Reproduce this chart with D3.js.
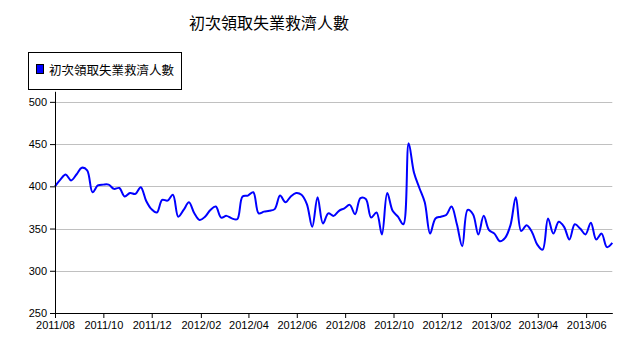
<!DOCTYPE html>
<html><head><meta charset="utf-8">
<script src="https://cdn.jsdelivr.net/npm/d3@7"></script>
<style>body{margin:0;background:#fff}</style>
</head><body><svg id="c" width="628" height="360"></svg>
<script>
const title = "初次領取失業救濟人數";
const seriesName = "初次領取失業救濟人數";
const weeks = [
"2011-08-06","2011-08-13","2011-08-20","2011-08-27","2011-09-03","2011-09-10","2011-09-17","2011-09-24","2011-10-01","2011-10-08","2011-10-15","2011-10-22","2011-10-29","2011-11-05","2011-11-12","2011-11-19","2011-11-26","2011-12-03","2011-12-10","2011-12-17","2011-12-24","2011-12-31",
"2012-01-07","2012-01-14","2012-01-21","2012-01-28","2012-02-04","2012-02-11","2012-02-18","2012-02-25","2012-03-03","2012-03-10","2012-03-17","2012-03-24","2012-03-31","2012-04-07","2012-04-14","2012-04-21","2012-04-28","2012-05-05","2012-05-12","2012-05-19","2012-05-26","2012-06-02","2012-06-09","2012-06-16","2012-06-23","2012-06-30","2012-07-07","2012-07-14","2012-07-21","2012-07-28","2012-08-04","2012-08-11","2012-08-18","2012-08-25","2012-09-01","2012-09-08","2012-09-15","2012-09-22","2012-09-29","2012-10-06","2012-10-13","2012-10-20","2012-10-27","2012-11-03","2012-11-10","2012-11-17","2012-11-24","2012-12-01","2012-12-08","2012-12-15","2012-12-22","2012-12-29",
"2013-01-05","2013-01-12","2013-01-19","2013-01-26","2013-02-02","2013-02-09","2013-02-16","2013-02-23","2013-03-02","2013-03-09","2013-03-16","2013-03-23","2013-03-30","2013-04-06","2013-04-13","2013-04-20","2013-04-27","2013-05-04","2013-05-11","2013-05-18","2013-05-25","2013-06-01","2013-06-08","2013-06-15","2013-06-22","2013-06-29","2013-07-06","2013-07-13","2013-07-20","2013-07-27","2013-08-03"];
const claims = [
400,408,414,407,414,422,419,393,401,402,402,397,398,388,392,391,399,383,373,369,384,383,
390,364,372,381,368,360,364,372,376,363,365,362,361,388,389,393,368,370,371,373,389,381,388,392,390,379,352,387,356,368,365,371,374,378,367,386,385,363,369,343,392,371,364,355,451,416,398,381,344,362,364,366,
376,355,329,372,367,343,365,348,344,335,339,354,387,347,354,346,331,325,362,344,358,352,337,355,350,343,357,337,344,328,333];
const yTicks = [250,300,350,400,450,500];
const xTickLabels = ["2011/08","2011/10","2011/12","2012/02","2012/04","2012/06","2012/08","2012/10","2012/12","2013/02","2013/04","2013/06"];

const svg = d3.select("#c");
const L = 55, R = 612.3, T = 91.3, B = 313;
const x = d3.scalePoint().domain(weeks).range([L, R]);
const parseM = d3.timeParse("%Y/%m");
const xAxisScale = d3.scaleTime().domain([new Date(2011,7,1), new Date(2013,6,4)]).range([L, R]);
const y = d3.scaleLinear().domain([250, 512.5]).range([B, T]);
const latin = "'Liberation Sans', Arial, sans-serif";
const cjk = "'Noto Sans CJK TC', 'Noto Sans CJK SC', sans-serif";

// grid
svg.append("g").selectAll("line").data(yTicks.filter(d => d > 250)).join("line")
  .attr("x1", L).attr("x2", R)
  .attr("y1", d => Math.round(y(d)) + 0.5).attr("y2", d => Math.round(y(d)) + 0.5)
  .attr("stroke", "#c0c0c0").attr("stroke-width", 1);

// line
svg.append("path").datum(claims)
  .attr("fill", "none").attr("stroke", "#0000ff").attr("stroke-width", 2)
  .attr("stroke-linejoin", "round")
  .attr("d", d3.line().x((d, i) => x(weeks[i])).y(d => y(d)).curve(d3.curveCatmullRom));

// axes
const ya = svg.append("g").attr("transform", `translate(${L},0)`)
  .call(d3.axisLeft(y).tickValues(yTicks).tickSize(5).tickSizeOuter(0).tickPadding(3));
const xa = svg.append("g").attr("transform", `translate(0,${B})`)
  .call(d3.axisBottom(xAxisScale).tickValues(xTickLabels.map(parseM))
    .tickFormat(d3.timeFormat("%Y/%m")).tickSize(5).tickSizeOuter(0).tickPadding(3));
[ya, xa].forEach(g => {
  g.attr("font-family", latin).attr("font-size", 11);
  g.selectAll("text").attr("fill", "#000");
  g.selectAll("line,path").attr("stroke", "#000");
});

// title
svg.append("text").attr("x", 269).attr("y", 29).attr("text-anchor", "middle")
  .attr("font-family", cjk).attr("font-size", 16).attr("fill", "#000").text(title);

// legend
svg.append("rect").attr("x", 28.5).attr("y", 52.5).attr("width", 153).attr("height", 37)
  .attr("fill", "#fff").attr("stroke", "#000");
svg.append("rect").attr("x", 36.5).attr("y", 64.5).attr("width", 7).attr("height", 9)
  .attr("fill", "#0000ff").attr("stroke", "#000");
svg.append("text").attr("x", 49).attr("y", 75).attr("font-family", cjk).attr("font-size", 12.5)
  .attr("fill", "#000").text(seriesName);
</script></body></html>
